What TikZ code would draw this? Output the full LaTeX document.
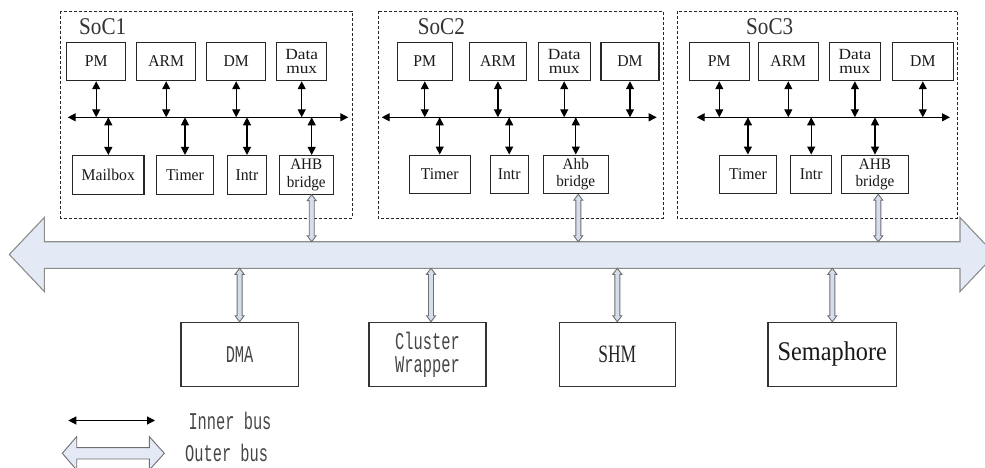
\documentclass[tikz,border=0pt]{standalone}
\usepackage{fontspec}
\setmainfont{Liberation Serif}
\newfontfamily\cellfont[FakeStretch=0.95]{Liberation Serif}
\newfontfamily\widefont[FakeStretch=1.12]{Liberation Serif}
\newfontfamily\socfont[FakeStretch=0.88]{Liberation Serif}
\newfontfamily\termfont[FakeStretch=0.64]{Liberation Mono}
\newfontfamily\shmfont[FakeStretch=0.7]{Liberation Serif}
\newfontfamily\semfont[FakeStretch=0.9]{Liberation Serif}
\usetikzlibrary{arrows.meta,calc}

\definecolor{busfill}{RGB}{228,234,245}
\definecolor{busedge}{RGB}{140,140,140}
\definecolor{linkfill}{RGB}{214,222,236}
\definecolor{linkedge}{RGB}{110,110,115}
\definecolor{inktext}{RGB}{70,70,70}

% hollow vertical double arrow between a top point and a bottom point
\newcommand\vlink[2]{%
  \draw[link] let \p1=#1, \p2=#2 in
    (\x1,\y1) -- (\x1+4.5pt,\y1-6pt) -- (\x1+2.5pt,\y1-6pt) -- (\x1+2.5pt,\y2+6pt)
    -- (\x1+4.5pt,\y2+6pt) -- (\x1,\y2) -- (\x1-4.5pt,\y2+6pt) -- (\x1-2.5pt,\y2+6pt)
    -- (\x1-2.5pt,\y1-6pt) -- (\x1-4.5pt,\y1-6pt) -- cycle;}

\tikzset{
  unit/.style={draw=black!85, line width=1.1pt, minimum height=38.6pt, inner sep=0pt,
    align=center, text=black!90, font=\cellfont\fontsize{16.5}{16}\selectfont},
  twoline/.style={font=\widefont\fontsize{15.5}{14}\selectfont},
  bridge/.style={font=\cellfont\fontsize{16}{17.5}\selectfont},
  periph/.style={draw=black!80, line width=1.1pt, minimum height=64.4pt, inner sep=0pt,
    align=center},
  socbox/.style={draw=black!85, line width=0.8pt, dash pattern=on 3pt off 2pt},
  soclabel/.style={anchor=base west, inner sep=0pt, text=black!80,
    font=\socfont\fontsize{24}{24}\selectfont},
  inner/.style={line width=1.2pt, {Triangle[length=8pt,width=8pt]}-{Triangle[length=8pt,width=8pt]}},
  link/.style={draw=linkedge, fill=linkfill, line width=0.9pt, line join=miter},
  bigbus/.style={draw=busedge, fill=busfill, line width=1.1pt},
  legend/.style={anchor=west, inner sep=0pt, text=inktext,
    font=\termfont\fontsize{24}{24}\selectfont},
}

\begin{document}
\begin{tikzpicture}[x=1pt,y=-1pt]
\useasboundingbox (0,0) rectangle (985,468);

% ---------- outer bus ----------
\draw[bigbus] (9.3,254.5) -- (44.3,217.5) -- (44.3,241.7) -- (960,241.7) -- (960,217.5)
  -- (995,254.5) -- (960,291.5) -- (960,268.3) -- (44.3,268.3) -- (44.3,291.5) -- cycle;
\coordinate (bustop) at (0,241.7);
\coordinate (busbot) at (0,268.3);

% ---------- SoC1 ----------
\draw[socbox] (60.7,11) rectangle (352,218);
\node[soclabel] (soc1) at (79,35) {SoC1};
\node[unit, minimum width=59pt] (pm1)   at (96.2,61.4)  {PM};
\node[unit, minimum width=59pt] (arm1)  at (166.2,61.4) {ARM};
\node[unit, minimum width=59pt] (dm1)   at (236.2,61.4) {DM};
\node[unit, twoline, minimum width=50pt] (dmux1) at (301.7,61.4) {Data\\mux};
\node[unit, minimum width=71.3pt] (mbox1) at (108.3,174.8) {Mailbox};
\node[unit, minimum width=56.6pt] (tim1)  at (185,174.8)   {Timer};
\node[unit, minimum width=39.4pt] (intr1) at (247,174.8)   {Intr};
\node[unit, bridge, minimum width=54pt] (ahb1) at (306.3,174.8) {AHB\\bridge};
\coordinate (b1l) at (67.7,117.3);
\coordinate (b1r) at (348.3,117.3);
\draw[inner] (b1l) -- (b1r);
\foreach \n in {pm1,arm1,dm1,dmux1} \draw[inner] (\n.south) -- (\n.south |- b1l);
\foreach \n in {mbox1,tim1,intr1} \draw[inner] (\n.north |- b1l) -- (\n.north);
\coordinate (a1) at ([xshift=5.4pt]ahb1.north);
\draw[inner] (a1 |- b1l) -- (a1);
\coordinate (o1) at ([xshift=5.4pt]ahb1.south);
\vlink{(o1)}{(o1 |- bustop)}

% ---------- SoC2 ----------
\draw[socbox] (378.3,11) rectangle (663.3,218);
\node[soclabel] (soc2) at (417.7,35) {SoC2};
\node[unit, minimum width=55pt]   (pm2)   at (424.8,61.4) {PM};
\node[unit, minimum width=57.7pt] (arm2)  at (497.9,61.4) {ARM};
\node[unit, twoline, minimum width=51.7pt] (dmux2) at (564.2,61.4) {Data\\mux};
\node[unit, minimum width=58pt]   (dm2)   at (630,61.4)   {DM};
\node[unit, minimum width=60.7pt] (tim2)  at (439.7,174.4) {Timer};
\node[unit, minimum width=38.3pt] (intr2) at (509.2,174.4) {Intr};
\node[unit, bridge, minimum width=65pt] (ahb2) at (575.8,174.4) {Ahb\\bridge};
\coordinate (b2l) at (381.7,117.3);
\coordinate (b2r) at (656.7,117.3);
\draw[inner] (b2l) -- (b2r);
\foreach \n in {pm2,arm2,dmux2,dm2} \draw[inner] (\n.south) -- (\n.south |- b2l);
\foreach \n in {tim2,intr2,ahb2} \draw[inner] (\n.north |- b2l) -- (\n.north);
\coordinate (o2) at ([xshift=2.5pt]ahb2.south);
\vlink{(o2)}{(o2 |- bustop)}

% ---------- SoC3 ----------
\draw[socbox] (677.3,11) rectangle (957.7,218);
\node[soclabel] (soc3) at (746,35) {SoC3};
\node[unit, minimum width=60pt]   (pm3)   at (719.3,61.4) {PM};
\node[unit, minimum width=60pt]   (arm3)  at (788.3,61.4) {ARM};
\node[unit, twoline, minimum width=51.7pt] (dmux3) at (854.9,61.4) {Data\\mux};
\node[unit, minimum width=61pt]   (dm3)   at (922.8,61.4) {DM};
\node[unit, minimum width=57.7pt] (tim3)  at (747.9,174.4) {Timer};
\node[unit, minimum width=41pt]   (intr3) at (811.2,174.4) {Intr};
\node[unit, bridge, minimum width=66.6pt] (ahb3) at (875,174.4) {AHB\\bridge};
\coordinate (b3l) at (696.7,117.3);
\coordinate (b3r) at (950,117.3);
\draw[inner] (b3l) -- (b3r);
\foreach \n in {pm3,arm3,dmux3,dm3} \draw[inner] (\n.south) -- (\n.south |- b3l);
\foreach \n in {tim3,intr3,ahb3} \draw[inner] (\n.north |- b3l) -- (\n.north);
\coordinate (o3) at ([xshift=3.3pt]ahb3.south);
\vlink{(o3)}{(o3 |- bustop)}

% ---------- shared peripherals ----------
\node[periph, minimum width=117.3pt, text=inktext, font=\termfont\fontsize{24}{24}\selectfont]
  (dma) at (239.6,354.5) {DMA};
\node[periph, minimum width=117pt, text=inktext, font=\termfont\fontsize{24}{23}\selectfont]
  (clw) at (427.5,354.5) {Cluster\\Wrapper};
\node[periph, minimum width=116pt, text=black!85, font=\shmfont\fontsize{25}{25}\selectfont]
  (shm) at (617.3,354.5) {SHM};
\node[periph, minimum width=128.7pt, text=black!90, font=\semfont\fontsize{27}{27}\selectfont]
  (sem) at (832.3,354.5) {Semaphore};
\vlink{(dma.north |- busbot)}{(dma.north)}
\coordinate (oc) at ([xshift=3.5pt]clw.north);
\vlink{(oc |- busbot)}{(oc)}
\vlink{(shm.north |- busbot)}{(shm.north)}
\vlink{(sem.north |- busbot)}{(sem.north)}

% ---------- legend ----------
\coordinate (li1) at (68.3,420.5);
\coordinate (li2) at (155,420.5);
\draw[inner] (li1) -- (li2);
\node[legend] (linner) at (188.3,420.5) {Inner bus};
\draw[link, fill=busfill] (62.3,453.3) -- (76.7,436.6) -- (76.7,447.6) -- (149.3,447.6)
  -- (149.3,436.6) -- (164.3,453.3) -- (149.3,470) -- (149.3,459) -- (76.7,459)
  -- (76.7,470) -- cycle;
\node[legend] (louter) at (185,453.3) {Outer bus};
\end{tikzpicture}
\end{document}
